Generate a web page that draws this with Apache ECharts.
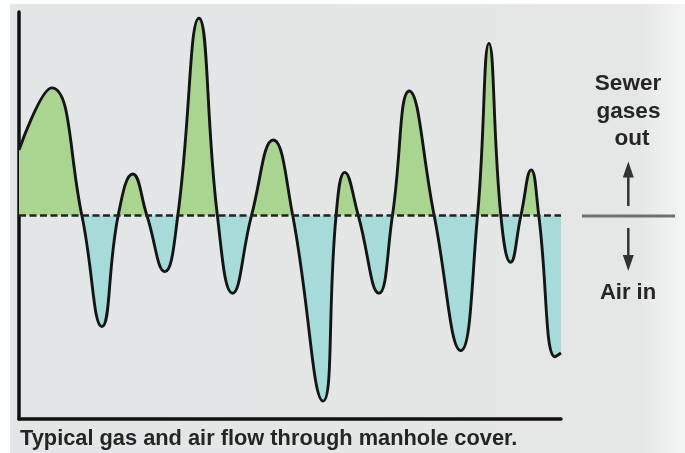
<!DOCTYPE html>
<html>
<head>
<meta charset="utf-8">
<script src="https://cdn.jsdelivr.net/npm/echarts@6/dist/echarts.min.js"></script>
<style>
html,body{margin:0;padding:0;background:#ffffff;}
#chart{width:685px;height:453px;}
</style>
</head>
<body>
<div id="chart"></div>
<script>
// time (arbitrary units, 0..100) and flow (positive = gases out, negative = air in)
const timeX = [0, 6.0, 11.6, 15.3, 18.3, 21.0, 23.6, 26.9, 29.3, 33.2, 36.6, 39.4, 42.9, 46.9, 50.5, 56.1, 58.5, 60.1, 62.6, 66.4, 68.9, 72.0, 76.6, 81.5, 84.6, 86.7, 88.9, 90.7, 92.6, 94.5, 95.9, 98.9, 100];
const flow  = [32.2, 62.7, 0, -54.6, 0, 20.4, 0, -27.6, 0, 96.9, 0, -38.2, 0, 37.1, 0, -91.2, 0, 21.2, 0, -38.2, 0, 61.2, 0, -66.4, 0, 84.6, 0, -23.0, 0, 22.4, 0, -69.4, -67.6];
const caption = 'Typical gas and air flow through manhole cover.';
const outLabel = ['Sewer', 'gases', 'out'];
const inLabel = 'Air in';

const points = timeX.map((x, i) => [x, flow[i]]);
const font = '"Liberation Sans", Arial, Helvetica, sans-serif';
const GRID = {left: 19, right: 124, top: 12, bottom: 34};
const H = 453;
const yTop = GRID.top, yBot = H - GRID.bottom;
const SMOOTH = 0.48;

const chart = echarts.init(document.getElementById('chart'), null, {renderer: 'canvas'});
chart.setOption({
  animation: false,
  backgroundColor: '#ffffff',
  grid: GRID,
  xAxis: {
    type: 'value', min: 0, max: 100,
    axisLine: {show: true, onZero: false, lineStyle: {color: '#111', width: 3.5}},
    axisTick: {show: false}, axisLabel: {show: false}, splitLine: {show: false}
  },
  yAxis: {
    type: 'value', min: -100, max: 100,
    axisLine: {show: true, onZero: false, lineStyle: {color: '#111', width: 3.5}},
    axisTick: {show: false}, axisLabel: {show: false}, splitLine: {show: false}
  },
  graphic: [
    {type: 'rect', z: -10, silent: true, shape: {x: 10, y: 4, width: 675, height: 449},
      style: {fill: new echarts.graphic.LinearGradient(0, 0, 1, 0, [
        {offset: 0, color: '#e3e6e6'}, {offset: 0.93, color: '#e5e7e7'}, {offset: 1, color: '#f3f4f4'}])}},
    {type: 'text', x: 20, y: 439, style: {text: caption, font: 'bold 21.8px ' + font, fill: '#252525', align: 'left', verticalAlign: 'middle'}},
    {type: 'text', x: 628, y: 84, style: {text: outLabel[0], font: 'bold 22.5px ' + font, fill: '#252525', align: 'center', verticalAlign: 'middle'}},
    {type: 'text', x: 628.5, y: 111.5, style: {text: outLabel[1], font: 'bold 22.5px ' + font, fill: '#252525', align: 'center', verticalAlign: 'middle'}},
    {type: 'text', x: 632, y: 139, style: {text: outLabel[2], font: 'bold 22.5px ' + font, fill: '#252525', align: 'center', verticalAlign: 'middle'}},
    {type: 'text', x: 628, y: 292.5, style: {text: inLabel, font: 'bold 22px ' + font, fill: '#252525', align: 'center', verticalAlign: 'middle'}},
    {type: 'line', shape: {x1: 582, y1: 216, x2: 675, y2: 216}, style: {stroke: '#6f6f6f', lineWidth: 3}},
    {type: 'line', shape: {x1: 628.3, y1: 175, x2: 628.3, y2: 206}, style: {stroke: '#333', lineWidth: 2.5}},
    {type: 'polygon', shape: {points: [[628.3, 161.5], [622.8, 177.5], [633.8, 177.5]]}, style: {fill: '#333'}},
    {type: 'line', shape: {x1: 628.3, y1: 228, x2: 628.3, y2: 258}, style: {stroke: '#333', lineWidth: 2.5}},
    {type: 'polygon', shape: {points: [[628.3, 271], [622.8, 255], [633.8, 255]]}, style: {fill: '#333'}}
  ],
  series: [
    {
      type: 'line', data: points, smooth: SMOOTH, symbol: 'none', z: 1,
      lineStyle: {width: 0, opacity: 0},
      areaStyle: {
        opacity: 1, origin: 0,
        color: new echarts.graphic.LinearGradient(0, yTop, 0, yBot, [
          {offset: 0, color: '#a9d591'}, {offset: 0.5, color: '#a9d591'},
          {offset: 0.5, color: '#a7dbd9'}, {offset: 1, color: '#a7dbd9'}], true)
      }
    },
    {
      type: 'line', data: points, smooth: SMOOTH, symbol: 'none', z: 3,
      lineStyle: {color: '#151515', width: 2.9},
      markLine: {
        silent: true, symbol: 'none', label: {show: false},
        lineStyle: {color: '#222', width: 2.6, type: [7, 3.5], opacity: 1},
        emphasis: {disabled: true},
        data: [{yAxis: 0}]
      }
    }
  ]
});
</script>
</body>
</html>
